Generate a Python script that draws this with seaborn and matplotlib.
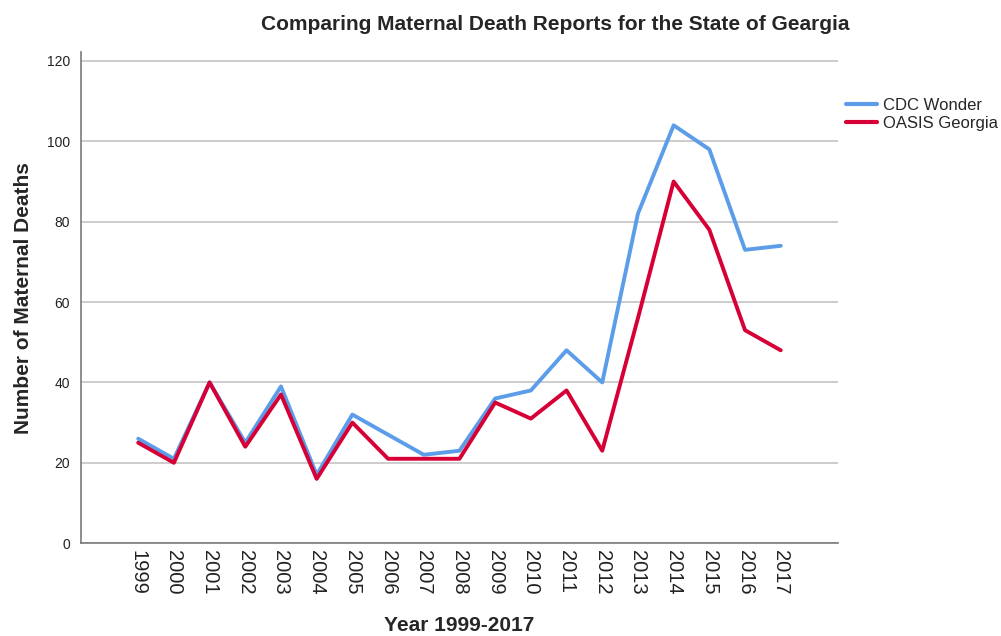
import matplotlib
matplotlib.use("Agg")
import matplotlib.pyplot as plt
import seaborn as sns
import pandas as pd

years = [str(y) for y in range(1999, 2018)]
cdc_wonder = [26, 21, 40, 25, 39, 17, 32, 27, 22, 23, 36, 38, 48, 40, 82, 104, 98, 73, 74]
oasis_georgia = [25, 20, 40, 24, 37, 16, 30, 21, 21, 21, 35, 31, 38, 23, 56, 90, 78, 53, 48]
series_names = ["CDC Wonder", "OASIS Georgia"]
colors = ["#5b9de8", "#d60036"]

sns.set_style("white")
plt.rcParams['font.family'] = ['Liberation Sans', 'DejaVu Sans']

df = pd.DataFrame({
    "Year": years * 2,
    "Deaths": cdc_wonder + oasis_georgia,
    "Source": [series_names[0]] * len(years) + [series_names[1]] * len(years),
})
df["x"] = list(range(len(years))) * 2

fig = plt.figure(figsize=(10.01, 6.36), dpi=100)
ax = fig.add_axes([0.081, 0.146, 0.756, 0.772])
sns.lineplot(data=df, x="x", y="Deaths", hue="Source", palette=colors,
             linewidth=2.8, ax=ax, legend=True)

ax.set_xlim(-1.6, len(years) - 1 + 1.6)
ax.set_ylim(0, 122.2)
ax.set_yticks([0, 20, 40, 60, 80, 100, 120])
ax.set_xticks(range(len(years)))
ax.set_xticklabels(years, rotation=270, fontsize=14.5, color="#222222")
ax.tick_params(axis="x", length=0, pad=5)
ax.tick_params(axis="y", labelsize=10, colors="#222222", length=0, pad=8)
ax.yaxis.grid(True, color="#c8c8c8", linewidth=1.3)
ax.xaxis.grid(False)
for s in ["top", "right"]:
    ax.spines[s].set_visible(False)
for s in ["left", "bottom"]:
    ax.spines[s].set_color("#7a7a7a")
    ax.spines[s].set_linewidth(1.2)

ax.set_xlabel("Year 1999-2017", fontsize=15, fontweight="bold", labelpad=15)
ax.set_ylabel("Number of Maternal Deaths", fontsize=15, fontweight="bold", labelpad=10)
ax.set_title("Comparing Maternal Death Reports for the State of Geargia",
             fontsize=15, fontweight="bold", pad=16, x=0.627)

leg = ax.legend(loc="upper left", bbox_to_anchor=(0.995, 0.931), frameon=False,
                fontsize=12, handlelength=1.9, labelspacing=0.2, handletextpad=0.35,
                borderaxespad=0.3)
for line in leg.get_lines():
    line.set_linewidth(3)

fig.savefig("out.png", dpi=100)
